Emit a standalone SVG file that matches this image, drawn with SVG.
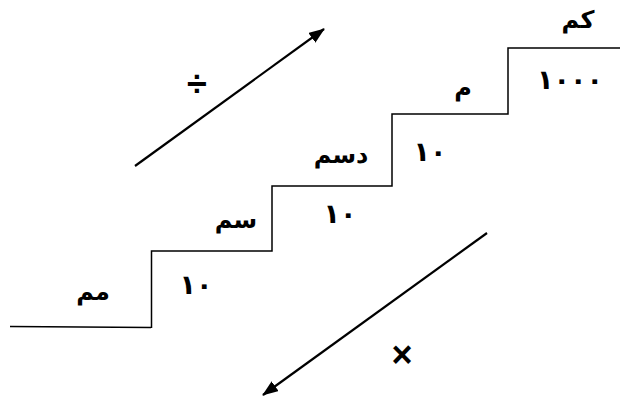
<svg xmlns="http://www.w3.org/2000/svg" width="620" height="405" viewBox="0 0 620 405">
<style>
.stair{fill:none;stroke:#000;stroke-width:1.5}
.arr{fill:none;stroke:#000;stroke-width:2.2}
.t{font-family:"DejaVu Sans",sans-serif;font-weight:bold;font-size:24px;fill:#000;text-anchor:middle}
.d{font-family:"DejaVu Sans",sans-serif;font-weight:bold;font-size:27px;fill:#000;text-anchor:middle;letter-spacing:9px}
.op{font-family:"Liberation Sans",sans-serif;font-weight:bold;font-size:36px;fill:#000;text-anchor:middle}
</style>
<defs>
<marker id="head" viewBox="0 0 16 12" refX="15" refY="6" markerWidth="16" markerHeight="12" markerUnits="userSpaceOnUse" orient="auto">
<path d="M0,0 L16,6 L0,12 z" fill="#000"/>
</marker>
</defs>
<g id="stairs">
<path class="stair" d="M10,326.5 L151,327.5 M151.5,328 L151.5,251 L272,251 L272,186 L392,186 L392,114 L508,114 L508,48 L620,48"/>
</g>
<g id="labels">
<g id="mm"><text class="t" x="93" y="300">مم</text></g>
<g id="n1"><text class="d" x="196" y="294">١٠</text></g>
<g id="sm"><text class="t" x="236" y="228">سم</text></g>
<g id="n2"><text class="d" x="340" y="223">١٠</text></g>
<g id="dsm"><text class="t" x="341" y="163">دسم</text></g>
<g id="n3"><text class="d" x="430" y="161">١٠</text></g>
<g id="m"><text class="t" x="463" y="96">م</text></g>
<g id="n4"><text class="d" x="570" y="89">١٠٠٠</text></g>
<g id="km"><text class="t" x="578" y="28">كم</text></g>
<g id="div"><text class="op" x="197" y="96">÷</text></g>
<g id="mul"><text class="op" x="402" y="367">×</text></g>
</g>
<g id="connectors">
<line class="arr" x1="135" y1="166" x2="324" y2="29" marker-end="url(#head)"/>
<line class="arr" x1="487" y1="233" x2="263" y2="395" marker-end="url(#head)"/>
</g>
</svg>
